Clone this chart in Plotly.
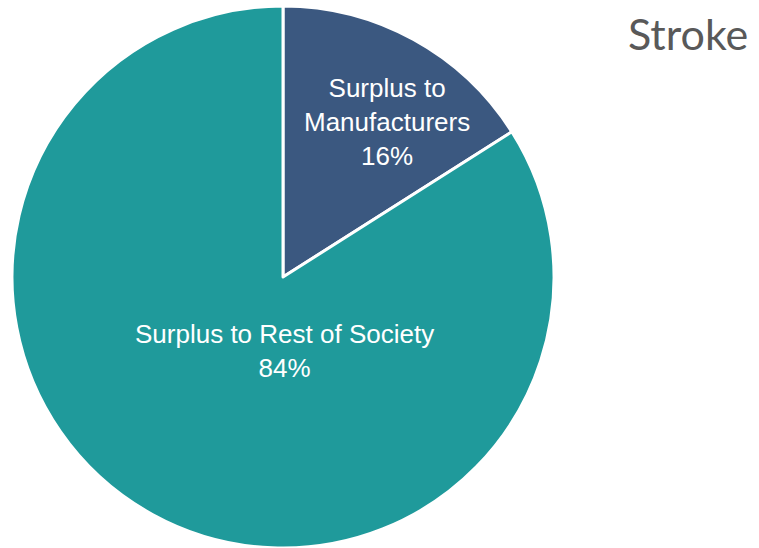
import plotly.graph_objects as go

# Share of total surplus by recipient
labels = ["Surplus to Manufacturers", "Surplus to Rest of Society"]
shares = [16, 84]
slice_colors = ["#3B5880", "#1F9A9B"]
title_text = "Stroke"

W, H = 759, 548

fig = go.Figure(
    go.Pie(
        labels=labels,
        values=shares,
        sort=False,
        direction="clockwise",
        rotation=0,
        marker=dict(colors=slice_colors, line=dict(color="white", width=3)),
        textinfo="none",
        hoverinfo="label+percent",
        showlegend=False,
        domain=dict(x=[12 / W, 554 / W], y=[0.0, 0.989]),
    )
)

total = sum(shares)
pct = [round(100 * v / total) for v in shares]

label_font = dict(family="Liberation Sans, Arial, sans-serif", size=26, color="white")

# Manufacturers label: wrap the two-word tail onto its own line
fig.add_annotation(
    x=387 / W, y=1 - 122 / H, xref="paper", yref="paper",
    text=f"Surplus to<br>Manufacturers<br>{pct[0]}%",
    showarrow=False, font=label_font, xanchor="center", yanchor="middle",
)
fig.add_annotation(
    x=284 / W, y=1 - 351 / H, xref="paper", yref="paper",
    text=f"{labels[1]}<br>{pct[1]}%",
    showarrow=False, font=label_font, xanchor="center", yanchor="middle",
)

fig.add_annotation(
    x=750 / W, y=1 - 33 / H, xref="paper", yref="paper",
    text=title_text, showarrow=False,
    font=dict(family="Lato, sans-serif", size=43, color="#595959"),
    xanchor="right", yanchor="middle",
)

fig.update_layout(
    width=W, height=H,
    margin=dict(l=0, r=0, t=0, b=0),
    paper_bgcolor="white", plot_bgcolor="white",
)

fig.write_html("out.html")
